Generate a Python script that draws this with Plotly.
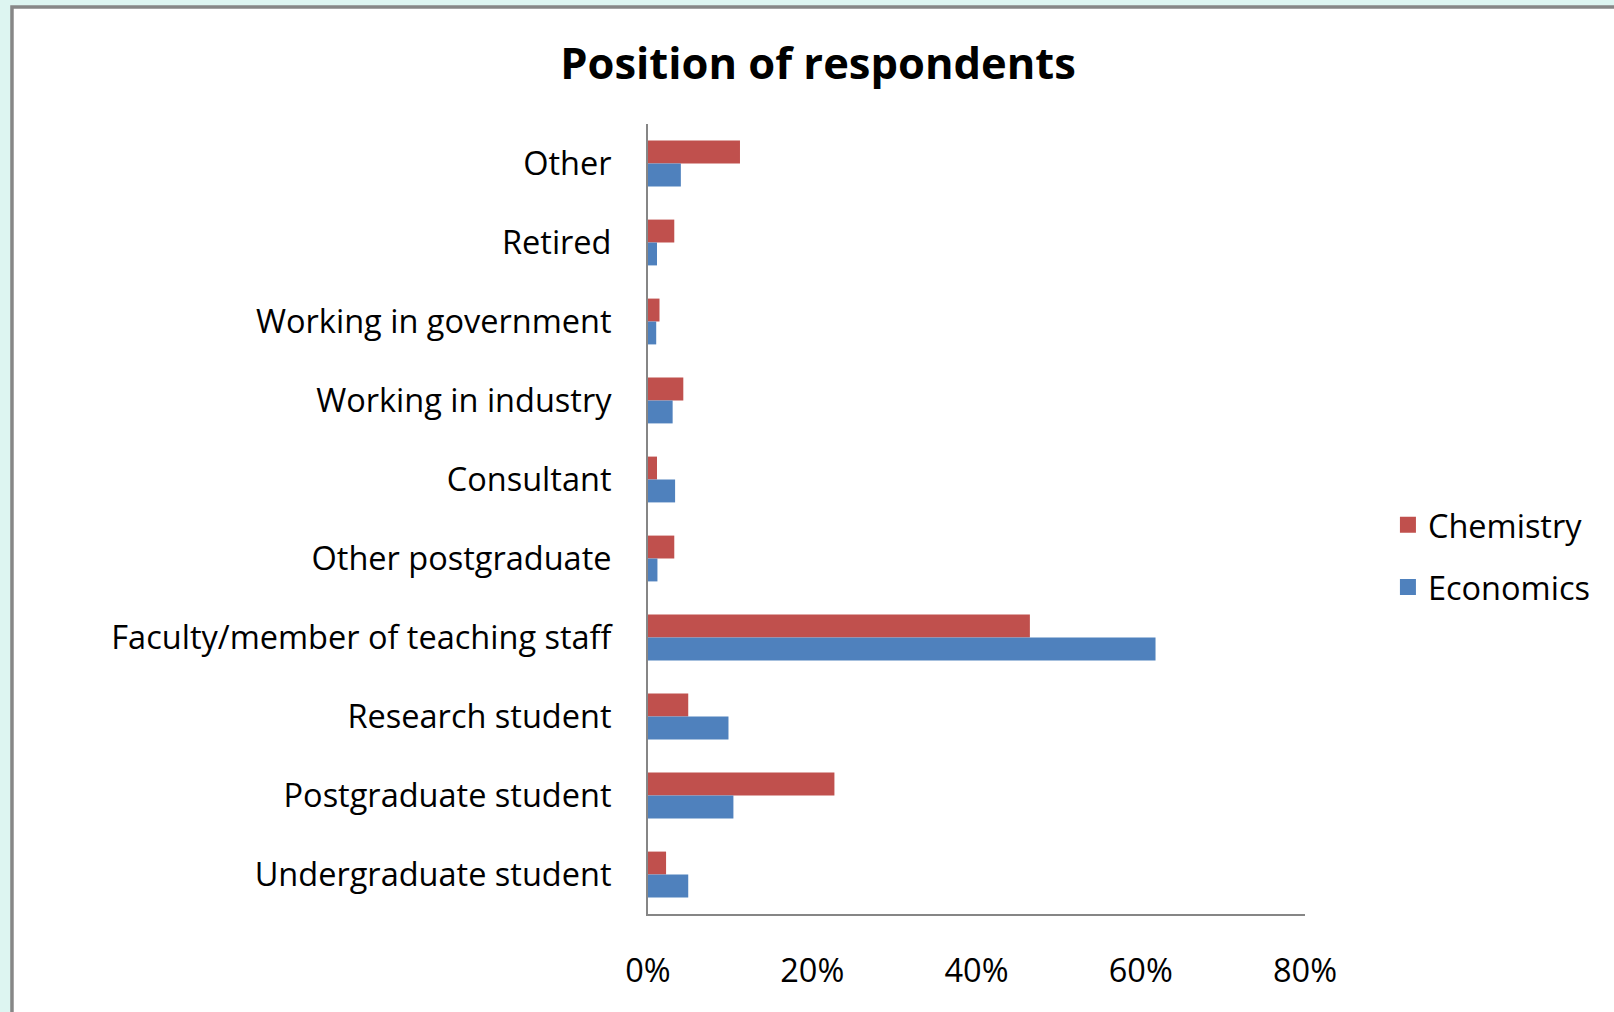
import plotly.graph_objects as go

# Survey: current position of respondents, share of each discipline (%)
categories = [
    "Other",
    "Retired",
    "Working in government",
    "Working in industry",
    "Consultant",
    "Other postgraduate",
    "Faculty/member of teaching staff",
    "Research student",
    "Postgraduate student",
    "Undergraduate student",
]
chemistry = [11.2, 3.2, 1.4, 4.3, 1.1, 3.2, 46.5, 4.9, 22.7, 2.2]
economics = [4.0, 1.1, 1.0, 3.0, 3.3, 1.15, 61.8, 9.8, 10.4, 4.9]

series_names = ["Chemistry", "Economics"]
series_colors = ["#C0504D", "#4F81BD"]
x_ticks = [0, 20, 40, 60, 80]
x_tick_labels = ["0%", "20%", "40%", "60%", "80%"]

W, H = 1614, 1012
L, R, T, B = 647.5, 309, 123.5, 98
FONT = "Open Sans"
TEXT_SIZE = 32.5


def px_to_paper_x(px):
    return (px - L) / (W - L - R)


def px_to_paper_y(py):
    return (H - B - py) / (H - T - B)


fig = go.Figure()
for name, vals, col in zip(series_names, [chemistry, economics], series_colors):
    fig.add_trace(go.Bar(
        y=categories, x=vals, name=name, orientation="h",
        marker=dict(color=col, line=dict(width=0)),
        showlegend=False, hoverinfo="x+y+name",
    ))
    # legend entry with a larger square swatch
    fig.add_trace(go.Scatter(
        x=[None], y=[None], mode="markers", name=name,
        marker=dict(symbol="square", size=16, color=col),
        legendgroup=name,
    ))

fig.update_layout(
    width=W, height=H,
    margin=dict(l=L, r=R, t=T, b=B, autoexpand=False),
    paper_bgcolor="#DDF5F1",
    plot_bgcolor="rgba(0,0,0,0)",
    barmode="group", bargap=0.42, bargroupgap=0,
    font=dict(family=FONT, size=TEXT_SIZE, color="#000000"),
    title=dict(
        text="<b>Position of respondents</b>",
        font=dict(family=FONT, size=43.5, color="#000000"),
        x=818 / W, xanchor="center", xref="container",
        y=1 - 64 / H, yanchor="middle", yref="container",
    ),
    xaxis=dict(
        range=[0, 80], tickvals=x_ticks, ticktext=x_tick_labels,
        showgrid=False, zeroline=False,
        showline=True, linecolor="#868686", linewidth=2,
        ticks="", ticklabelstandoff=27,
        tickfont=dict(family=FONT, size=TEXT_SIZE),
    ),
    yaxis=dict(
        type="category", categoryorder="array", categoryarray=categories,
        range=[len(categories) - 0.5, -0.5],
        showgrid=False, zeroline=False,
        showline=True, linecolor="#868686", linewidth=2,
        ticks="", ticklabelstandoff=28,
        tickfont=dict(family=FONT, size=TEXT_SIZE),
    ),
    legend=dict(
        x=px_to_paper_x(1388), xanchor="left",
        y=px_to_paper_y(556), yanchor="middle",
        traceorder="grouped", tracegroupgap=17,
        font=dict(family=FONT, size=TEXT_SIZE),
        bgcolor="rgba(0,0,0,0)",
    ),
    shapes=[
        # white chart frame with grey border
        dict(type="rect", xref="paper", yref="paper", layer="below",
             x0=px_to_paper_x(11), x1=px_to_paper_x(W + 20),
             y0=px_to_paper_y(H + 20), y1=px_to_paper_y(6.5),
             fillcolor="#FFFFFF", line=dict(color="#878787", width=3.5)),
    ],
)

fig.write_html("out.html")
